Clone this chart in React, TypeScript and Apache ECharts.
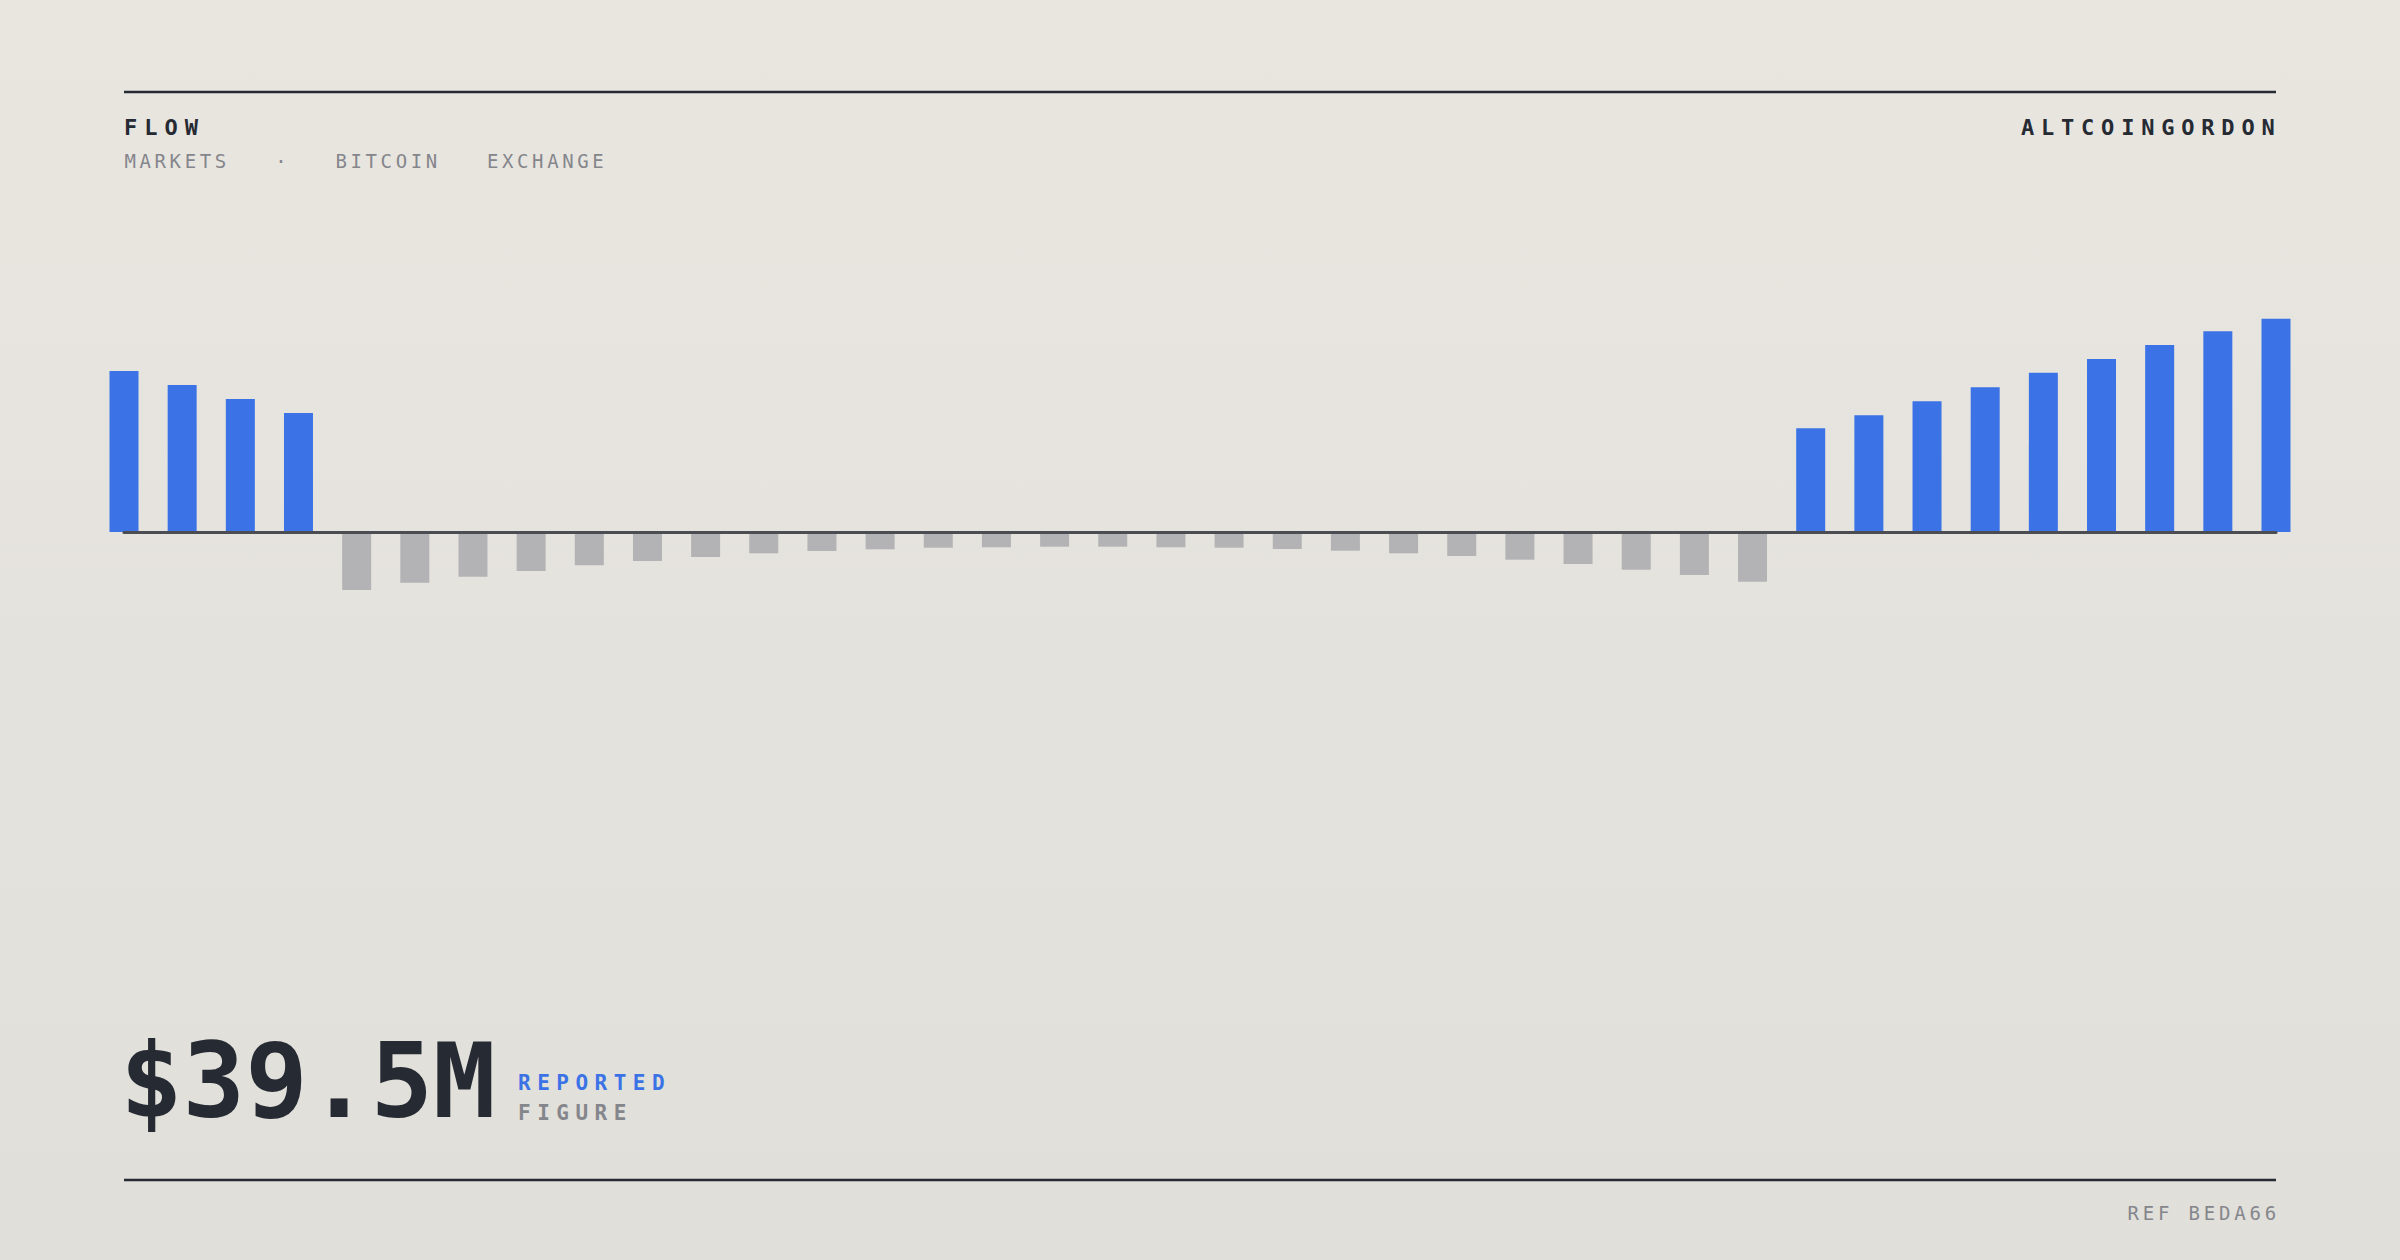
import React, { useEffect, useRef } from "react";
import * as echarts from "echarts";

// ---- data ----
const categories = [
  "W01", "W02", "W03", "W04", "W05", "W06", "W07", "W08", "W09", "W10",
  "W11", "W12", "W13", "W14", "W15", "W16", "W17", "W18", "W19", "W20",
  "W21", "W22", "W23", "W24", "W25", "W26", "W27", "W28", "W29", "W30",
  "W31", "W32", "W33", "W34", "W35", "W36", "W37", "W38",
];
const inflowEarly = [16.1, 14.7, 13.3, 11.9];
const outflowMid = [
  -5.8, -5.07, -4.47, -3.9, -3.33, -2.9, -2.5, -2.13, -1.9, -1.73, -1.57, -1.53,
  -1.47, -1.47, -1.53, -1.57, -1.7, -1.87, -2.13, -2.4, -2.77, -3.2, -3.77, -4.3, -4.97,
];
const inflowLate = [10.37, 11.67, 13.07, 14.47, 15.93, 17.3, 18.7, 20.07, 21.33];
const headline = "$39.5M";
const titleText = "FLOW";
const brandText = "ALTCOINGORDON";
const tagTexts = ["MARKETS", "·", "BITCOIN", "EXCHANGE"];
const refText = "REF BEDA66";

const BLUE = "#3b73e6";
const GREY_BAR = "#b3b3b5";
const INK = "#262a33";
const MUTED = "#85868c";
const FONT = '"DejaVu Sans Mono", monospace';

const spacingMap: Record<string, number> = {
  FLOW: 7,
  ALTCOINGORDON: 6.8,
  MARKETS: 3.6,
  BITCOIN: 3.6,
  EXCHANGE: 3.6,
  REPORTED: 6.5,
  FIGURE: 6.5,
  "REF BEDA66": 3.8,
};

function txt(text: string, x: number, y: number, size: number, weight: string, fill: string, align: string = "left") {
  return {
    type: "text",
    x,
    y,
    z: 100,
    style: {
      text,
      fill,
      font: `${weight} ${size}px ${FONT}`,
      align,
      verticalAlign: "middle",
      textAlign: align,
      textVerticalAlign: "middle",
    },
  };
}

export default function App() {
  const ref = useRef<HTMLDivElement>(null);
  useEffect(() => {
    if (!ref.current) return;
    const chart = echarts.init(ref.current, null, { renderer: "svg" });
    const values = [...inflowEarly, ...outflowMid, ...inflowLate];
    const data = values.map((v) => ({
      value: v,
      itemStyle: { color: v >= 0 ? BLUE : GREY_BAR },
    }));
    chart.setOption({
      animation: false,
      backgroundColor: "transparent",
      grid: { left: 124, right: 124, top: 232, height: 600 },
      xAxis: {
        type: "category",
        data: categories,
        boundaryGap: false,
        z: 5,
        axisLine: { show: true, onZero: true, lineStyle: { color: "#4b4d53", width: 3 } },
        axisTick: { show: false },
        axisLabel: { show: false },
        splitLine: { show: false },
      },
      yAxis: {
        type: "value",
        min: -30,
        max: 30,
        show: false,
        splitLine: { show: false },
      },
      series: [
        {
          type: "bar",
          data,
          barWidth: 29,
          z: 2,
        },
      ],
      graphic: [
        { type: "line", shape: { x1: 124, y1: 92, x2: 2276, y2: 92 }, style: { stroke: INK, lineWidth: 2.5 } },
        { type: "line", shape: { x1: 124, y1: 1180, x2: 2276, y2: 1180 }, style: { stroke: INK, lineWidth: 2.5 } },
        txt(titleText, 124, 127.5, 22, "bold", INK),
        txt(brandText, 2281.5, 127.5, 22, "bold", INK, "right"),
        txt(tagTexts[0], 124.5, 160.5, 19, "normal", MUTED),
        txt(tagTexts[1], 281, 160.5, 19, "normal", MUTED, "center"),
        txt(tagTexts[2], 335.5, 160.5, 19, "normal", MUTED),
        txt(tagTexts[3], 487, 160.5, 19, "normal", MUTED),
        txt(headline, 120, 1081, 104, "bold", INK),
        txt("REPORTED", 518, 1083.3, 21, "bold", BLUE),
        txt("FIGURE", 518, 1113.3, 21, "bold", MUTED),
        txt(refText, 2280, 1213.3, 19, "normal", MUTED, "right"),
      ],
    });
    const applySpacing = () => {
      const root = ref.current;
      if (!root) return;
      root.querySelectorAll("text").forEach((t) => {
        const s = spacingMap[(t.textContent || "").trim()];
        if (s) t.setAttribute("letter-spacing", String(s));
      });
    };
    applySpacing();
    chart.on("finished", applySpacing);
    const t1 = setTimeout(applySpacing, 50);
    const t2 = setTimeout(applySpacing, 300);
    return () => {
      clearTimeout(t1);
      clearTimeout(t2);
      chart.dispose();
    };
  }, []);
  return (
    <div
      ref={ref}
      style={{
        position: "fixed",
        left: 0,
        top: 0,
        width: 2400,
        height: 1260,
        background: "linear-gradient(180deg, #e9e6e0 0%, #e0dfda 100%)",
      }}
    />
  );
}
